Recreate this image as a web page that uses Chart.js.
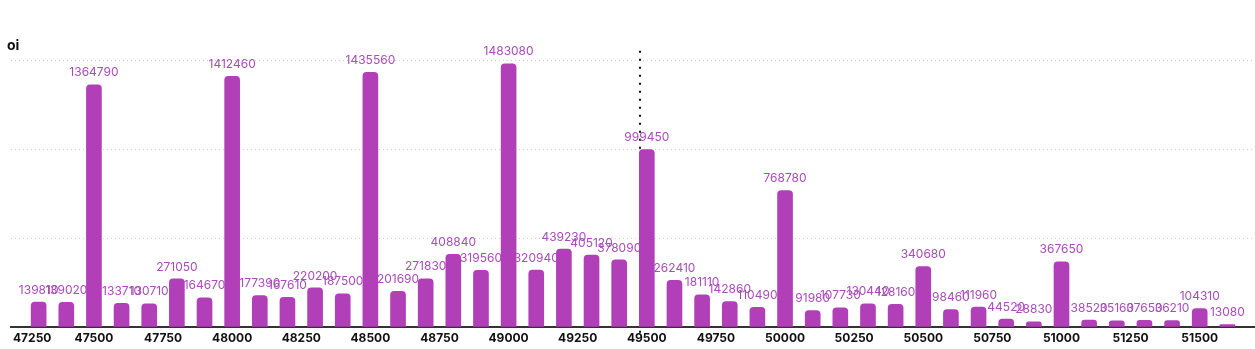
<!DOCTYPE html>
<html>
<head>
<meta charset="utf-8">
<script src="https://cdn.jsdelivr.net/npm/chart.js@4.4.1/dist/chart.umd.min.js"></script>
<style>
  html, body { margin: 0; padding: 0; background: #ffffff; }
  #wrap { width: 1255px; height: 349px; position: relative; }
</style>
</head>
<body>
<div id="wrap"><canvas id="c"></canvas></div>
<script>
// ---- data ----
const strikes = [47300, 47400, 47500, 47600, 47700, 47800, 47900, 48000, 48100, 48200,
                 48300, 48400, 48500, 48600, 48700, 48800, 48900, 49000, 49100, 49200,
                 49300, 49400, 49500, 49600, 49700, 49800, 49900, 50000, 50100, 50200,
                 50300, 50400, 50500, 50600, 50700, 50800, 50900, 51000, 51100, 51200,
                 51300, 51400, 51500, 51600];
const oiValues = [139810, 139020, 1364790, 133710, 130710, 271050, 164670, 1412460, 177390, 167610,
                  220200, 187500, 1435560, 201690, 271830, 408840, 319560, 1483080, 320940, 439230,
                  405120, 378090, 999450, 262410, 181110, 142860, 110490, 768780, 91980, 107730,
                  130440, 128160, 340680, 98460, 111960, 44520, 28830, 367650, 38520, 35160,
                  37650, 36210, 104310, 13080];
const xTickValues = [47250, 47500, 47750, 48000, 48250, 48500, 48750, 49000, 49250, 49500,
                     49750, 50000, 50250, 50500, 50750, 51000, 51250, 51500];
const yTickValues = [0, 500000, 1000000, 1500000];
const spotPrice = 49475;
const seriesName = 'oi';

const FONT = 'Inter, "Open Sans", sans-serif';
const BAR_COLOR = '#b03fb8';
const LABEL_COLOR = '#a84cb8';

// spot line drawn behind bars
const spotLine = {
  id: 'spotLine',
  beforeDatasetsDraw(chart) {
    const {ctx, chartArea, scales} = chart;
    const x = Math.round(scales.x.getPixelForValue(spotPrice));
    ctx.save();
    ctx.strokeStyle = '#111';
    ctx.lineWidth = 2;
    ctx.setLineDash([2, 6]);
    ctx.beginPath();
    ctx.moveTo(x, chartArea.top - 10);
    ctx.lineTo(x, chartArea.bottom + 7);
    ctx.stroke();
    ctx.restore();
  }
};

// value labels (drawn before bars so bars cover overlaps)
const valueLabels = {
  id: 'valueLabels',
  beforeDatasetsDraw(chart) {
    const {ctx} = chart;
    const meta = chart.getDatasetMeta(0);
    ctx.save();
    ctx.font = '400 12px ' + FONT;
    ctx.fillStyle = LABEL_COLOR;
    ctx.textAlign = 'center';
    ctx.textBaseline = 'middle';
    meta.data.forEach((bar, i) => {
      ctx.fillText(String(oiValues[i]), bar.x, bar.y - 12);
    });
    ctx.restore();
  }
};

// keep first x tick label inside the plot area
const clampLabels = {
  id: 'clampLabels',
  beforeDraw(chart) {
    const s = chart.scales.x;
    const items = s.getLabelItems();
    if (!items.length) return;
    const ctx = chart.ctx;
    const it = items[0];
    ctx.save();
    ctx.font = it.font.string;
    const w = ctx.measureText(String(it.label)).width;
    ctx.restore();
    const minX = chart.chartArea.left + 2 + w / 2;
    if (it.options.translation[0] < minX) it.options.translation[0] = minX;
  }
};

new Chart(document.getElementById('c'), {
  type: 'bar',
  data: {
    datasets: [{
      label: seriesName,
      data: strikes.map((s, i) => ({x: s, y: oiValues[i]})),
      backgroundColor: BAR_COLOR,
      borderWidth: 0,
      borderRadius: {topLeft: 4, topRight: 4, bottomLeft: 0, bottomRight: 0},
      borderSkipped: 'start',
      barThickness: 15
    }]
  },
  options: {
    responsive: true,
    maintainAspectRatio: false,
    animation: false,
    layout: { padding: { left: 7, right: 0, top: 0, bottom: 0 } },
    plugins: {
      legend: { display: false },
      tooltip: { enabled: false },
      title: {
        display: true,
        text: seriesName,
        align: 'start',
        color: '#111',
        font: { family: FONT, size: 14, weight: 'bold' },
        padding: { top: 37, bottom: 7 }
      }
    },
    scales: {
      x: {
        type: 'linear',
        min: 47200,
        max: 51700,
        offset: false,
        afterBuildTicks: s => { s.ticks = xTickValues.map(v => ({value: v})); },
        afterFit: s => { s.height = 22; },
        ticks: {
          autoSkip: false,
          maxRotation: 0,
          padding: 4,
          color: '#111',
          font: { family: FONT, size: 12, weight: 'bold' },
          callback: v => String(v)
        },
        grid: { display: false, drawTicks: false },
        border: { display: true, color: '#333', width: 2 }
      },
      y: {
        min: 0,
        max: 1500000,
        afterBuildTicks: s => { s.ticks = yTickValues.map(v => ({value: v})); },
        afterFit: s => { s.width = 4; },
        ticks: { display: false },
        grid: {
          drawTicks: false,
          color: ctx => ctx.tick && ctx.tick.value === 0 ? 'rgba(0,0,0,0)' : '#cfcfcf',
          lineWidth: 1
        },
        border: { display: false, dash: [1, 3] }
      }
    }
  },
  plugins: [spotLine, valueLabels, clampLabels]
});
</script>
</body>
</html>
